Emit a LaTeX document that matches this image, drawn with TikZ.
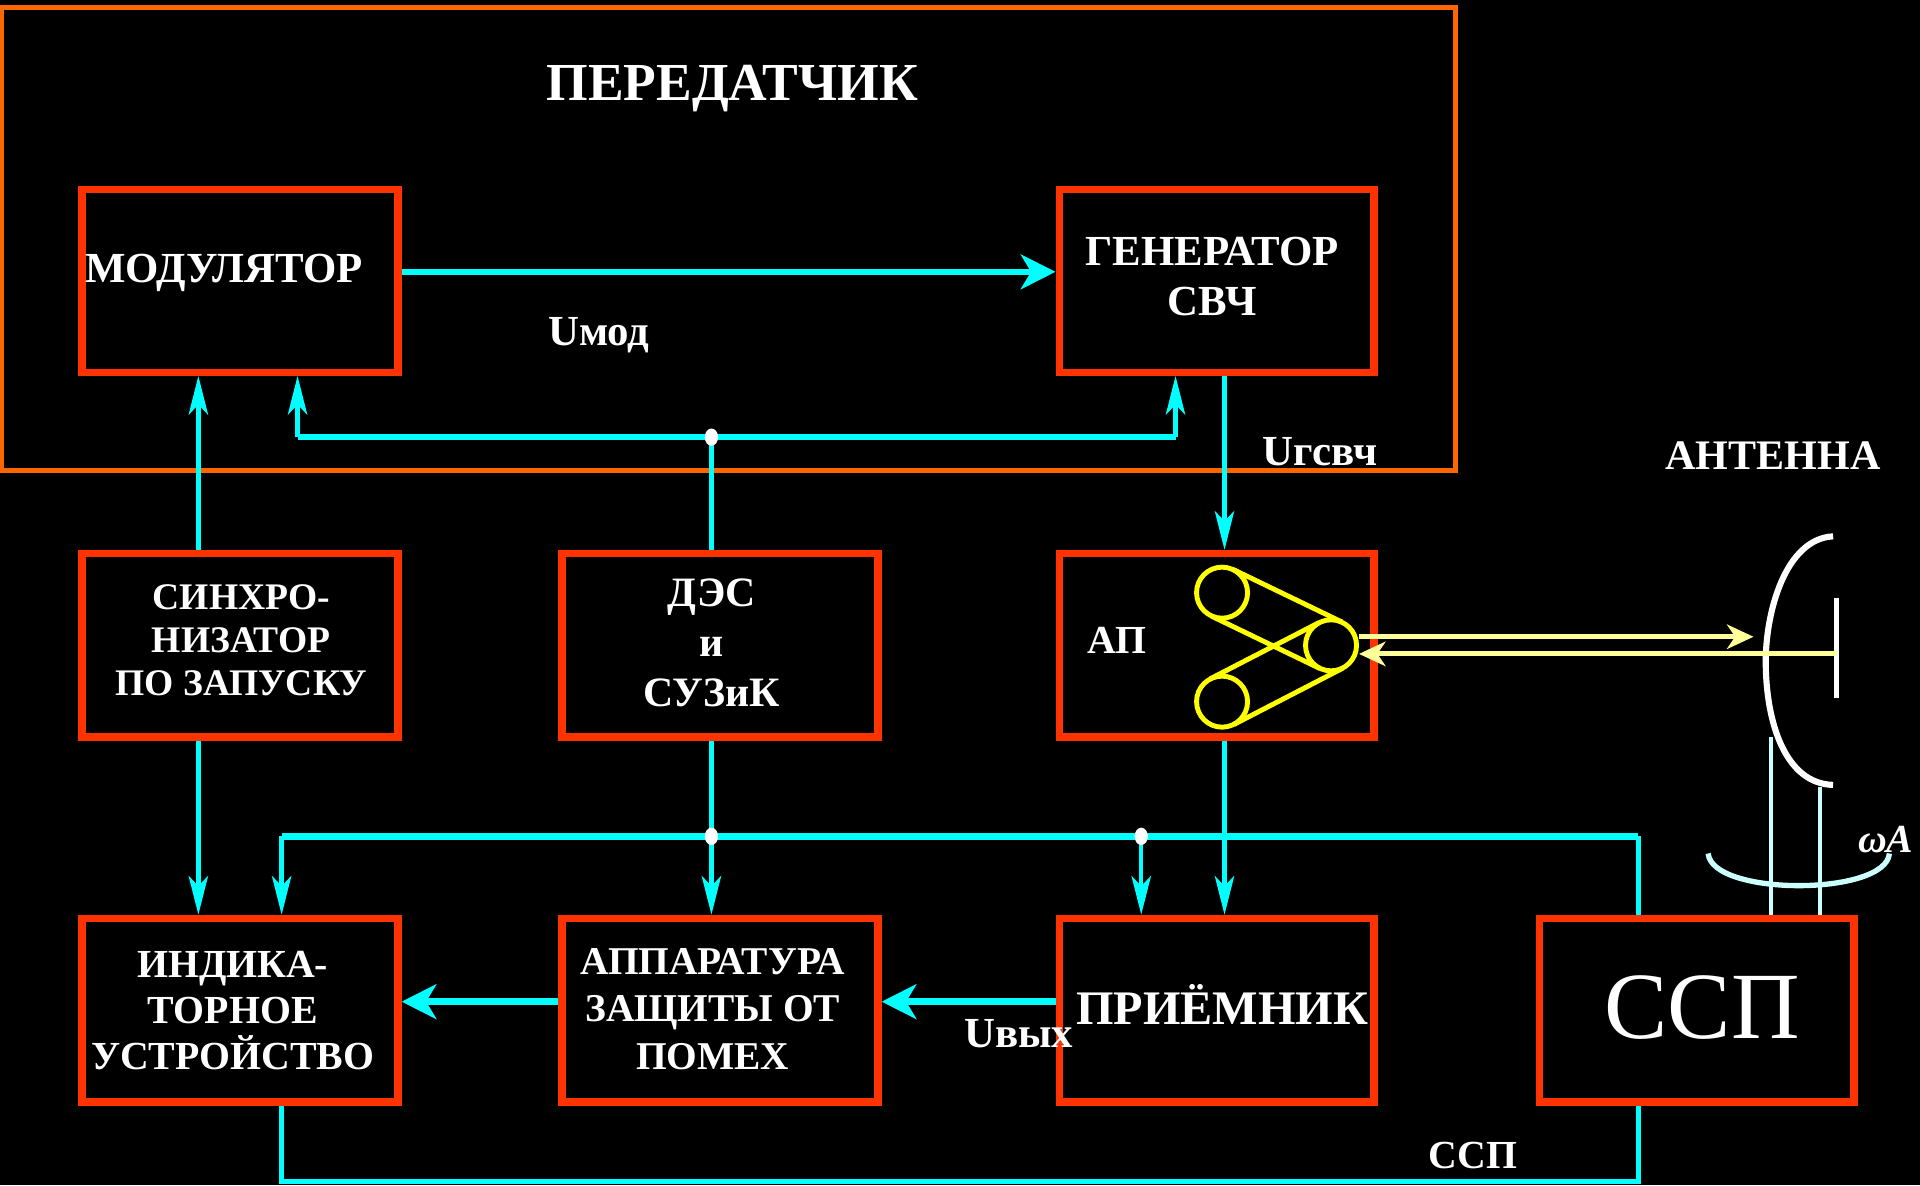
\documentclass[tikz,border=0pt]{standalone}
\usepackage{fontspec}
\setmainfont{Liberation Serif}
\usetikzlibrary{arrows.meta,fit,calc,shapes.geometric}
\definecolor{cy}{HTML}{00FFFF}
\definecolor{rd}{HTML}{FF3300}
\definecolor{og}{HTML}{FF6600}
\definecolor{yl}{HTML}{FFFF00}
\definecolor{lyl}{HTML}{FFFF99}
\definecolor{lcy}{HTML}{CCFFFF}
\begin{document}
\begin{tikzpicture}[x=0.6pt,y=-0.6pt,
  blk/.style={draw=rd, line width=3.6pt, inner sep=0pt},
  lbl/.style={text=white, font=\bfseries\fontsize{19}{23}\selectfont, align=center, inner sep=0pt},
  cl/.style={draw=cy, line width=2.1pt},
  ct/.style={draw=cy, line width=3.2pt},
  arr/.style={-{Stealth[length=19pt,width=9.5pt,inset=5pt]}},
  harr/.style={-{Stealth[length=17pt,width=17pt,inset=5pt]}},
  yarr/.style={-{Stealth[length=13pt,width=12pt,inset=4pt]}},
  ycirc/.style={circle, draw=yl, line width=2.4pt, minimum size=25pt, inner sep=0pt, fill=black},
  jdot/.style={ellipse, fill=white, minimum width=6.5pt, minimum height=8.5pt, inner sep=0pt},
]
\fill[black] (0,0) rectangle (1568,968);
\useasboundingbox (0,0) rectangle (1568,968);

% transmitter frame
\node[draw=og, line width=2.4pt, inner sep=0pt, fit={(1,6) (1189,384)}] (tx) {};
\node[lbl, font=\bfseries\fontsize{26.2}{30}\selectfont] (txl) at (598,72) {ПЕРЕДАТЧИК};

% blocks
\node[blk, fit={(67,155) (325,304)}] (mod) {};
\node[blk, fit={(865,155) (1122,304)}] (gen) {};
\node[blk, fit={(67,452) (325,602)}] (syn) {};
\node[blk, fit={(459,452) (717,602)}] (des) {};
\node[blk, fit={(865,452) (1122,602)}] (ap) {};
\node[blk, fit={(67,750) (325,900)}] (ind) {};
\node[blk, fit={(459,750) (717,900)}] (app) {};
\node[blk, fit={(865,750) (1122,900)}] (rcv) {};
\node[blk, fit={(1257,750) (1514,900)}] (ssp) {};

% block texts
\node[lbl, font=\bfseries\fontsize{21}{24.6}\selectfont] (modt) at (183,223) {МОДУЛЯТОР};
\node[lbl, font=\bfseries\fontsize{21}{24.6}\selectfont] (gent) at (990,226) {ГЕНЕРАТОР\\СВЧ};
\node[lbl, font=\bfseries\fontsize{18.4}{21}\selectfont] (synt) at (197,523) {СИНХРО-\\НИЗАТОР\\ПО ЗАПУСКУ};
\node[lbl, font=\bfseries\fontsize{20.5}{24.6}\selectfont] (dest) at (581,525) {ДЭС\\и\\СУЗиК};
\node[lbl, font=\bfseries\fontsize{19.5}{23}\selectfont] (apt) at (912,523) {АП};
\node[lbl, font=\bfseries\fontsize{19.5}{22.6}\selectfont] (indt) at (190,825) {ИНДИКА-\\ТОРНОЕ\\УСТРОЙСТВО};
\node[lbl, font=\bfseries\fontsize{19.3}{23.2}\selectfont] (appt) at (582,824) {АППАРАТУРА\\ЗАЩИТЫ ОТ\\ПОМЕХ};
\node[lbl, font=\bfseries\fontsize{23.6}{27}\selectfont] (rcvt) at (998,820) {ПРИЁМНИК};
\node[text=white, font=\fontsize{46.5}{50}\selectfont, inner sep=0pt] (sspt) at (1390,823) {ССП};

% signal labels
\node[lbl, font=\bfseries\fontsize{21}{24}\selectfont] (umod) at (489,274) {Uмод};
\node[lbl, font=\bfseries\fontsize{21}{24}\selectfont] (ugen) at (1078,369) {Uгсвч};
\node[lbl, font=\bfseries\fontsize{21}{24}\selectfont] (uout) at (832,844) {Uвых};
\node[lbl, font=\bfseries\fontsize{20.6}{24}\selectfont] (antl) at (1448,372) {АНТЕННА};
\node[lbl, font=\bfseries\fontsize{19.5}{24}\selectfont] (sspl) at (1203,944) {ССП};
\node[text=white, font=\bfseries\itshape\fontsize{19.5}{23}\selectfont, inner sep=0pt] (wal) at (1540,686) {ωA};

% helper coordinates
\coordinate (c162) at (162,0);
\coordinate (c1000) at (1000,0);
\coordinate (c1446) at (1446,0);
\coordinate (c1486) at (1486,0);
\coordinate (r222) at (0,222);
\coordinate (r520) at (0,520);
\coordinate (r818) at (0,818);
\coordinate (tL) at (243,357);
\coordinate (tR) at (960,357);
\coordinate (bL) at (230,683);
\coordinate (bR) at (1338,683);
\coordinate (fL) at (230,965);
\coordinate (fR) at (1338,965);

% junction points
\coordinate (j1) at (581,357);
\coordinate (j2) at (581,683);
\coordinate (j3) at (932,683);

% transmitter connections
\draw[ct,harr] (mod.east |- r222) -- (gen.west |- r222);
\draw[cl,arr] (syn.north -| c162) -- (mod.south -| c162);
\draw[ct] (tL) -- (j1) -- (tR);
\draw[cl,arr] (tL) -- (mod.south -| tL);
\draw[cl,arr] (tR) -- (gen.south -| tR);
\draw[cl] (des.north -| j1) -- (j1);
\draw[cl,arr] (gen.south -| c1000) -- (ap.north -| c1000);

% lower connections
\draw[cl,arr] (syn.south -| c162) -- (ind.north -| c162);
\draw[cl,arr] (des.south -| j2) -- (app.north -| j2);
\draw[cl,arr] (ap.south -| c1000) -- (rcv.north -| c1000);
\draw[ct] (bL) -- (j2) -- (j3) -- (bR);
\draw[cl,arr] (bL) -- (ind.north -| bL);
\draw[cl,arr] (j3) -- (rcv.north -| j3);
\draw[cl] (bR) -- (ssp.north -| bR);
\draw[ct,harr] (rcv.west |- r818) -- (app.east |- r818);
\draw[ct,harr] (app.west |- r818) -- (ind.east |- r818);
\draw[cl, line width=2.4pt] (ind.south -| fL) -- (fL) -- (fR) -- (ssp.south -| fR);
\node[jdot] (d1) at (j1) {};
\node[jdot] (d2) at (j2) {};
\node[jdot] (d3) at (j3) {};

% antenna switch drawing
\node[ycirc] (y1) at (998,484) {};
\node[ycirc] (y2) at (1087,527) {};
\node[ycirc] (y3) at (998,573) {};
\draw[yl, line width=2.4pt] ($(y1)!12.6pt!90:(y2)$) -- ($(y2)!12.6pt!-90:(y1)$);
\draw[yl, line width=2.4pt] ($(y1)!12.6pt!-90:(y2)$) -- ($(y2)!12.6pt!90:(y1)$);
\draw[yl, line width=2.4pt] ($(y3)!12.6pt!90:(y2)$) -- ($(y2)!12.6pt!-90:(y3)$);
\draw[yl, line width=2.4pt] ($(y3)!12.6pt!-90:(y2)$) -- ($(y2)!12.6pt!90:(y3)$);

% antenna
\coordinate (aT) at (1497,438);
\coordinate (aM) at (1442,540);
\coordinate (aB) at (1497,641);
\draw[white, line width=3pt] (aT) .. controls (1458,440) and (1442,500) .. (aM) .. controls (1442,590) and (1458,640) .. (aB);
\coordinate (fT) at (1500,488);
\coordinate (fB) at (1500,570);
\draw[white, line width=2.6pt] (fT) -- (fB);
\coordinate (fe) at (1500,534);
\coordinate (tip) at (1432,520);
\draw[lyl, line width=2.4pt, yarr] (y2.east |- r520) -- (tip);
\draw[lyl, line width=2.4pt, yarr] (fe) -- (y2.east |- fe);

% rotation
\coordinate (rA) at (1446,602);
\coordinate (rB) at (1486,643);
\draw[lcy, line width=2.6pt] (1395,697) .. controls (1398,732) and (1540,732) .. (1543,697);
\draw[lcy, line width=2pt] (rA) -- (ssp.north -| c1446);
\draw[lcy, line width=2pt] (rB) -- (ssp.north -| c1486);
\end{tikzpicture}
\end{document}
